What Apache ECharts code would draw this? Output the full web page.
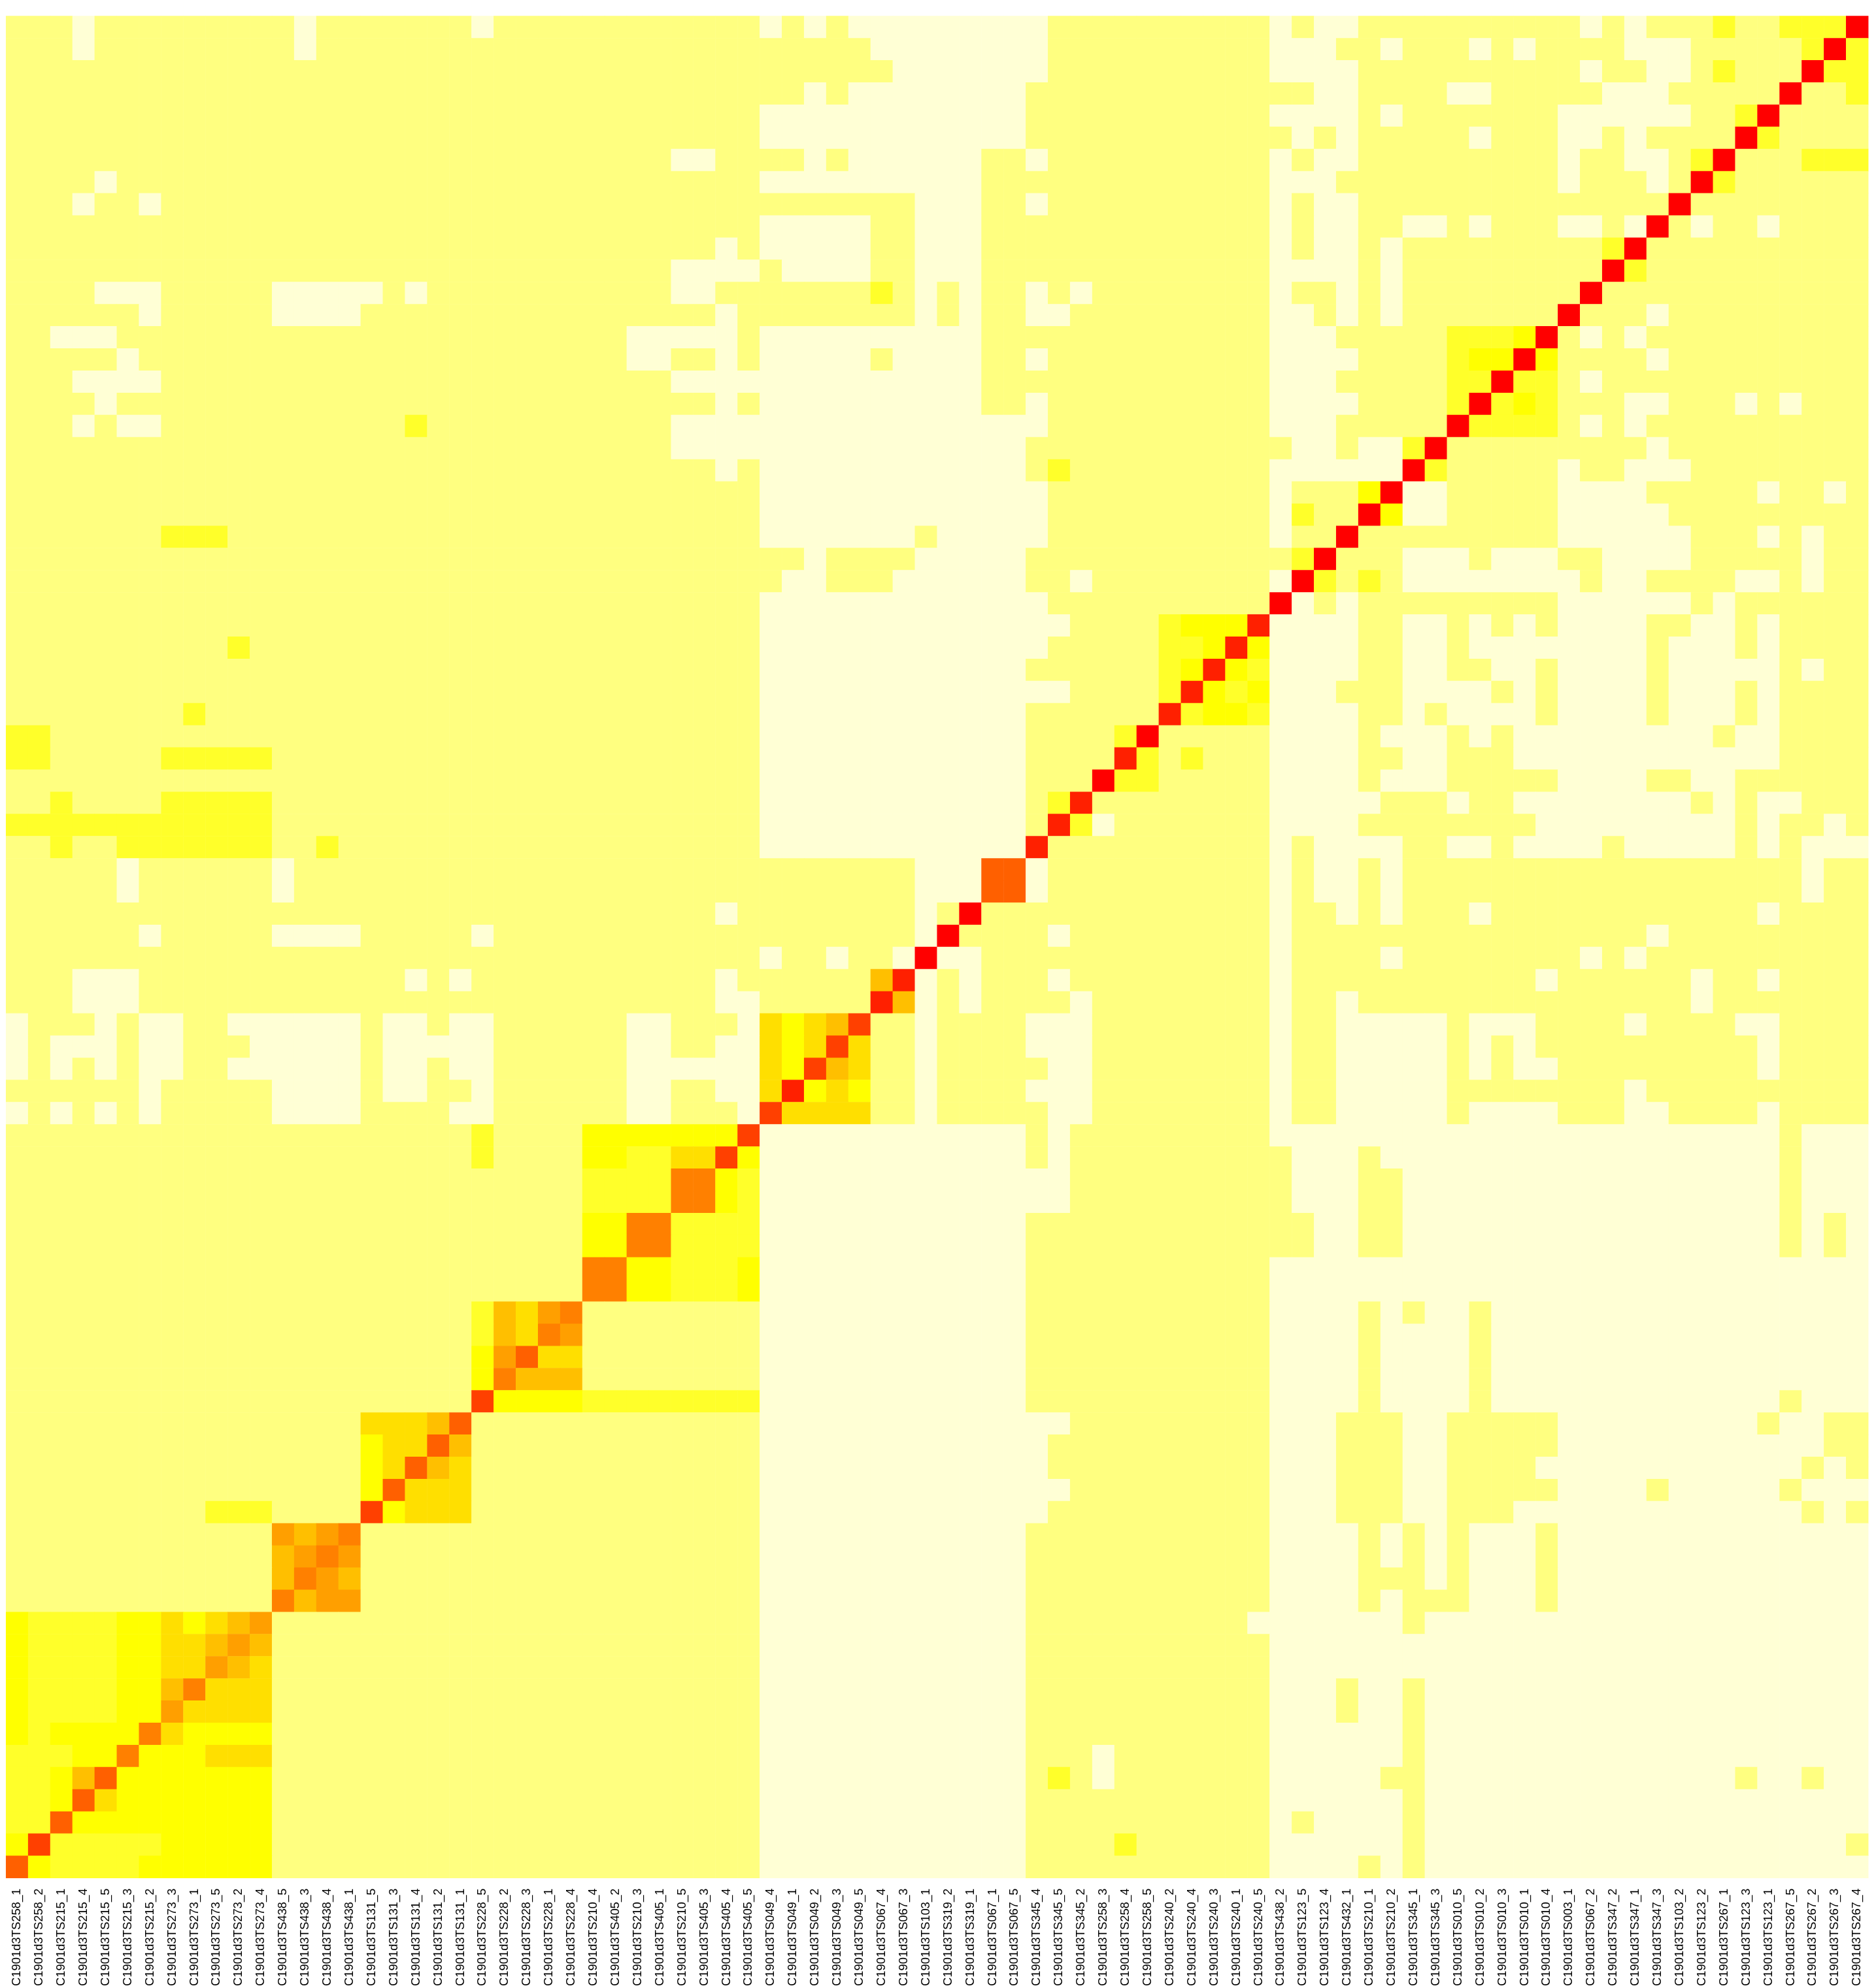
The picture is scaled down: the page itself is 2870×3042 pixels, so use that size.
<!DOCTYPE html>
<html><head><meta charset="utf-8">
<style>html,body{margin:0;padding:0;background:#fff}#c{width:2870px;height:3042px}</style>
<script src="https://cdn.jsdelivr.net/npm/echarts@6/dist/echarts.min.js"></script>
</head><body><div id="c"></div>
<script>
const suffixes = ["258_1","258_2","215_1","215_4","215_5","215_3","215_2","273_3","273_1","273_5","273_2","273_4","438_5","438_3","438_4","438_1","131_5","131_3","131_4","131_2","131_1","228_5","228_2","228_3","228_1","228_4","210_4","405_2","210_3","405_1","210_5","405_3","405_4","405_5","049_4","049_1","049_2","049_3","049_5","067_4","067_3","103_1","319_2","319_1","067_1","067_5","345_4","345_5","345_2","258_3","258_4","258_5","240_2","240_4","240_3","240_1","240_5","438_2","123_5","123_4","432_1","210_1","210_2","345_1","345_3","010_5","010_2","010_3","010_1","010_4","003_1","067_2","347_2","347_1","347_3","103_2","123_2","267_1","123_3","123_1","267_5","267_2","267_3","267_4"];
const categories = suffixes.map(s => "C1901d3TS" + s);
// level letters, weakest to strongest
const levels = "abcdefghijkl";
const levelColors = ["#FFFFD5","#FFFF80","#FFFF2A","#FFFF00","#FFDF00","#FFBF00","#FF9F00","#FF8000","#FF6000","#FF4000","#FF2000","#FF0000"];
// Rows top to bottom, columns 0-41: letter + exclusive end column
const leftRuns = [
"b3 a4 b13 a14 b21 a22 b34 a35 b36 a37 b38 a42",
"b3 a4 b13 a14 b39 a42",
"b40 a42",
"b36 a37 b38 a42",
"b34 a42",
"b34 a42",
"b30 a32 b36 a37 b38 a42",
"b4 a5 b34 a42",
"b3 a4 b6 a7 b41 a42",
"b34 a39 b41 a42",
"b32 a33 b34 a39 b41 a42",
"b30 a34 b35 a39 b41 a42",
"b4 a7 b12 a17 b18 a19 b30 a32 b39 c40 b41 a42",
"b6 a7 b12 a16 b32 a33 b41 a42",
"b2 a5 b28 a33 b34 a42",
"b5 a6 b28 a30 b32 a33 b34 a39 b40 a42",
"b3 a7 b30 a42",
"b4 a5 b32 a33 b34 a42",
"b3 a4 b5 a7 b18 c19 b30 a42",
"b30 a42",
"b32 a33 b34 a42",
"b34 a42",
"b34 a42",
"b7 c10 b34 a41 b42",
"b36 a37 b41 a42",
"b35 a37 b40 a42",
"b34 a42",
"b34 a42",
"b10 c11 b34 a42",
"b34 a42",
"b34 a42",
"b8 c9 b34 a42",
"c2 b34 a42",
"c2 b7 c12 b34 a42",
"b34 a42",
"b2 c3 b7 c12 b34 a42",
"c12 b34 a42",
"b2 c3 b5 c12 b14 c15 b34 a42",
"b5 a6 b12 a13 b41 a42",
"b5 a6 b12 a13 b41 a42",
"b32 a33 b41 a42",
"b6 a7 b12 a16 b21 a22 b41 a42",
"b34 a35 b37 a38 b40 a41 l42",
"b3 a6 b18 a19 b20 a21 b32 a33 b39 f40 k41 a42",
"b3 a6 b32 a34 b39 k40 f41 a42",
"a1 b4 a5 b6 a8 b10 a16 b17 a19 b20 a22 b28 a30 b33 a34 e35 d36 e37 f38 j39 b41 a42",
"a1 b2 a5 b6 a8 b11 a16 b17 a22 b28 a30 b32 a34 e35 d36 e37 j38 e39 b41 a42",
"a1 b2 a3 b4 a5 b6 a8 b10 a16 b17 a19 b20 a22 b28 a34 e35 d36 j37 f38 e39 b41 a42",
"b6 a7 b12 a16 b17 a19 b21 a22 b28 a30 b32 a34 e35 k36 d37 e38 d39 b41 a42",
"a1 b2 a3 b4 a5 b6 a7 b12 a16 b20 a22 b28 a30 b33 a34 j35 e39 b41 a42",
"b21 c22 b26 d33 j34 a42",
"b21 c22 b26 d28 c30 e32 j33 d34 a42",
"b26 c30 h32 d33 c34 a42",
"b26 c30 h32 d33 c34 a42",
"b26 d28 h30 c34 a42",
"b26 d28 h30 c34 a42",
"b26 h28 d30 c33 d34 a42",
"b26 h28 d30 c33 d34 a42",
"b21 c22 f23 e24 g25 h26 b34 a42",
"b21 c22 f23 e24 h25 g26 b34 a42",
"b21 d22 g23 i24 e26 b34 a42",
"b21 d22 h23 f26 b34 a42",
"b21 j22 d26 c34 a42",
"b16 e19 f20 i21 b34 a42",
"b16 d17 e19 i20 f21 b34 a42",
"b16 d17 e18 i19 f20 e21 b34 a42",
"b16 d17 i18 e21 b34 a42",
"b9 c12 b16 j17 d18 e21 b34 a42",
"b12 g13 f14 g15 h16 b34 a42",
"b12 f13 g14 h15 g16 b34 a42",
"b12 f13 h14 g15 f16 b34 a42",
"b12 h13 f14 g16 b34 a42",
"d1 c5 d7 e8 d9 e10 f11 g12 b34 a42",
"d1 c5 d7 e9 f10 g11 f12 b34 a42",
"d1 c5 d7 e9 g10 f11 e12 b34 a42",
"d1 c5 d7 f8 h9 e12 b34 a42",
"d1 c5 d7 g8 e12 b34 a42",
"d1 c2 d6 h7 e8 d12 b34 a42",
"c3 d5 h6 d9 e12 b34 a42",
"c2 d3 f4 i5 d12 b34 a42",
"c2 d3 i4 e5 d12 b34 a42",
"c2 i3 d12 b34 a42",
"d1 j2 c7 d12 b34 a42",
"i1 d2 c6 d12 b34 a42"
];
// Rows top to bottom, columns 42-83
const rightRuns = [
"a47 b57 a58 b59 a61 b71 a72 b73 a74 b77 c78 b80 c83 l84",
"a47 b57 a60 b62 a63 b66 a67 b68 a69 b73 a76 b81 c82 l83 c84",
"a47 b57 a61 b71 a72 b74 a76 b77 c78 b81 l82 c84",
"a46 b59 a61 b65 a67 b72 a75 b80 l81 b83 c84",
"a46 b57 a61 b62 a63 b70 a76 b78 c79 l80 b84",
"a46 b58 a59 b60 a61 b66 a67 b70 a72 b73 a74 b78 l79 c80 b84",
"a44 b46 a47 b57 a58 b59 a61 b70 a71 b73 a75 b76 c77 l78 b81 c84",
"a44 b57 a60 b70 a71 b74 a75 b76 l77 c78 b84",
"a44 b46 a47 b57 a58 b59 a61 b75 l76 b84",
"a44 b57 a58 b59 a61 b63 a65 b66 a67 b70 a72 b73 a74 l75 b76 a77 b79 a80 b84",
"a44 b57 a58 b59 a61 b62 a63 b72 c73 l74 b84",
"a44 b57 a61 b62 a63 b72 l73 c74 b84",
"b43 a44 b46 a47 b48 a49 b57 a58 b60 a61 b62 a63 b71 l72 b84",
"b43 a44 b46 a48 b57 a59 b60 a61 b62 a63 b70 l71 b74 a75 b84",
"a44 b57 a60 b65 c68 d69 l70 b71 a72 b73 a74 b84",
"a44 b46 a47 b57 a61 b65 c66 d68 l69 d70 b74 a75 b84",
"a44 b57 a60 b65 c67 l68 c70 b71 a72 b84",
"a44 b46 a47 b57 a61 b65 c66 l67 c68 d69 c70 b73 a75 b78 a79 b80 a81 b84",
"a47 b57 a60 b65 l66 c70 b71 a72 b73 a74 b84",
"a46 b58 a60 b61 a63 c64 l65 b74 a75 b84",
"a46 b47 c48 b57 a63 l64 c65 b70 a71 b73 a76 b84",
"a47 b57 a58 b61 d62 l63 a65 b70 a74 b79 a80 b82 a83 b84",
"a47 b57 a58 c59 b61 l62 d63 a65 b70 a75 b84",
"a47 b57 a58 b60 l61 b70 a76 b79 a80 b81 a82 b84",
"a46 b58 c59 l60 b63 a66 b67 a70 b72 a76 b81 a82 b84",
"a46 b48 a49 b57 a58 l59 c60 b61 c62 b63 a71 b72 a74 b78 a80 b81 a82 b84",
"a47 b57 l58 a59 b60 a61 b70 a76 b77 a78 b84",
"a48 b52 c53 d56 k57 a61 b63 a65 b66 a67 b68 a69 b70 a74 b76 a78 b79 a80 b84",
"a47 b52 c54 d55 k56 d57 a61 b63 a65 b66 a74 b75 a78 b79 a80 b84",
"a46 b52 c53 d54 k55 d56 c57 a61 b63 a65 b67 a69 b70 a74 b75 a80 b81 a82 b84",
"a48 b52 c53 k54 d55 c56 d57 a60 b63 a67 b68 a69 b70 a74 b75 a78 b79 a80 b84",
"a46 b52 k53 c54 d56 c57 a61 b63 a64 b65 a69 b70 a74 b75 a78 b79 a80 b84",
"a46 b50 c51 l52 b57 a61 b62 a65 b66 a67 b68 a77 b78 a80 b84",
"a46 b50 k51 c52 b53 c54 b57 a61 b63 a65 b68 a80 b84",
"a46 b49 l50 c52 b57 a61 b62 a65 b70 a74 b76 a78 b84",
"a46 b47 c48 k49 b57 a62 b65 a66 b68 a76 b77 a78 b79 a81 b84",
"a46 b47 k48 c49 a50 b57 a61 b69 a78 b79 a80 b82 a83 b84",
"a46 k47 b57 a58 b59 a63 b65 a67 b68 a72 b73 a78 b79 a80 b81 a84",
"a44 i46 a47 b57 a58 b59 a61 b62 a63 b81 a82 b84",
"a44 i46 a47 b57 a58 b59 a61 b62 a63 b81 a82 b84",
"b43 l44 b57 a58 b60 a61 b62 a63 b66 a67 b79 a80 b84",
"l43 b47 a48 b57 a58 b74 a75 b84",
"a44 b57 a58 b62 a63 b71 a72 b73 a74 b84",
"b43 a44 b47 a48 b57 a58 b69 a70 b76 a77 b79 a80 b84",
"b43 a44 b48 a49 b57 a58 b60 a61 b76 a77 b84",
"b46 a49 b57 a58 b60 a65 b66 a69 b73 a74 b78 a80 b84",
"b46 a49 b57 a58 b60 a65 b66 a67 b68 a69 b79 a80 b84",
"b47 a49 b57 a58 b60 a65 b66 a67 b68 a70 b79 a80 b84",
"b46 a49 b57 a58 b60 a65 b73 a74 b84",
"b47 a49 b57 a58 b60 a65 b66 a70 b73 a75 b79 a80 b84",
"a46 b47 a48 b57 a80 b81 a84",
"a46 b47 a48 b58 a61 b62 a80 b81 a84",
"a48 b58 a61 b63 a80 b81 a84",
"a48 b58 a61 b63 a80 b81 a84",
"a46 b59 a61 b63 a80 b81 a82 b83 a84",
"a46 b59 a61 b63 a80 b81 a82 b83 a84",
"a46 b57 a84",
"a46 b57 a84",
"a46 b57 a61 b62 a63 b64 a66 b67 a84",
"a46 b57 a61 b62 a66 b67 a84",
"a46 b57 a61 b62 a66 b67 a84",
"a46 b57 a61 b62 a66 b67 a84",
"a46 b57 a61 b62 a66 b67 a80 b81 a84",
"a48 b57 a60 b63 a65 b70 a79 b80 a82 b84",
"a47 b57 a60 b63 a65 b70 a82 b84",
"a47 b57 a60 b63 a65 b69 a81 b82 a83 b84",
"a48 b57 a60 b63 a65 b70 a74 b75 a80 b81 a84",
"a47 b57 a60 b63 a65 b68 a81 b82 a83 b84",
"a46 b57 a61 b62 a63 b64 a65 b66 a69 b70 a84",
"a46 b57 a61 b62 a63 b64 a65 b66 a69 b70 a84",
"a46 b57 a61 b64 a65 b66 a69 b70 a84",
"a46 b57 a61 b62 a63 b66 a69 b70 a84",
"a46 b56 a63 b64 a84",
"a46 b57 a84",
"a46 b57 a84",
"a46 b57 a60 b61 a63 b64 a84",
"a46 b57 a60 b61 a63 b64 a84",
"a46 b57 a63 b64 a84",
"a46 b49 a50 b57 a63 b64 a84",
"a46 b47 c48 b49 a50 b57 a62 b64 a78 b79 a81 b82 a84",
"a46 b57 a63 b64 a84",
"a46 b57 a58 b59 a63 b64 a84",
"a46 b50 c51 b57 a63 b64 a83 b84",
"a46 b57 a61 b62 a63 b64 a84"
];

const data = [];
const expand = (runs, start, r) => {
  let col = start;
  runs.split(" ").forEach(tok => {
    const lvl = levels.indexOf(tok[0]);
    const end = +tok.slice(1);
    for (; col < end; col++) data.push([col, 83 - r, lvl]);
  });
};
leftRuns.forEach((runs, r) => { expand(runs, 0, r); expand(rightRuns[r], 42, r); });

const chart = echarts.init(document.getElementById("c"), null, {renderer: "canvas"});
chart.setOption({
  animation: false,
  backgroundColor: "#ffffff",
  grid: {left: 9.2, top: 24.5, width: 2849, height: 2850, containLabel: false},
  xAxis: {
    type: "category", data: categories, position: "bottom",
    axisLine: {show: false}, axisTick: {show: false}, splitLine: {show: false}, splitArea: {show: false},
    axisLabel: {show: true, interval: 0, rotate: 90, margin: 16, color: "#000",
      fontFamily: "Liberation Sans", fontSize: 18.4, hideOverlap: false}
  },
  yAxis: {
    type: "category", data: categories, show: false,
    splitLine: {show: false}, splitArea: {show: false}
  },
  visualMap: {
    type: "piecewise", show: false, dimension: 2, seriesIndex: 0,
    pieces: levelColors.map((color, i) => ({value: i, color}))
  },
  series: [{
    type: "heatmap", data, progressive: 0, silent: true,
    itemStyle: {borderWidth: 0}, emphasis: {disabled: true}
  }]
});
</script></body></html>
